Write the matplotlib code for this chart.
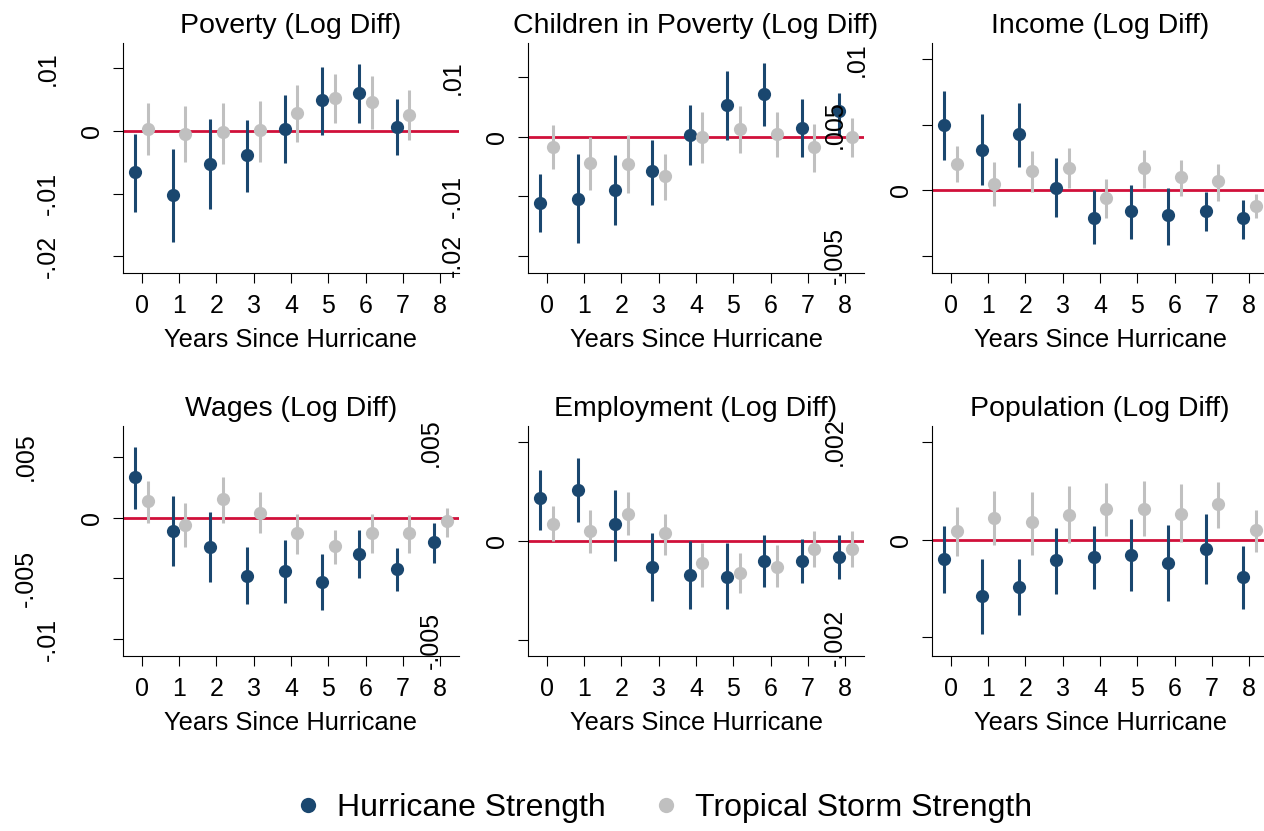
import matplotlib
matplotlib.use("Agg")
import matplotlib.pyplot as plt
from matplotlib.lines import Line2D
from matplotlib import transforms

plt.rcParams['font.family'] = ['Liberation Sans', 'DejaVu Sans']

years = list(range(9))

# Poverty
pov_hs = [-0.0066, -0.0102, -0.0052, -0.0039, 0.0003, 0.0049, 0.0061, 0.0006]
pov_hs_lo = [-0.0129, -0.0177, -0.0124, -0.0098, -0.0051, -0.0006, 0.0012, -0.0039]
pov_hs_hi = [-0.0005, -0.0028, 0.0019, 0.0018, 0.0057, 0.0102, 0.0107, 0.0051]
pov_ts = [0.0003, -0.0005, -0.0002, 0.0001, 0.0029, 0.0053, 0.0047, 0.0026]
pov_ts_lo = [-0.0039, -0.0050, -0.0052, -0.0050, -0.0017, 0.0012, 0.0004, -0.0015]
pov_ts_hi = [0.0044, 0.0040, 0.0045, 0.0048, 0.0073, 0.0091, 0.0088, 0.0065]

# Children in poverty
chi_hs = [-0.0111, -0.0105, -0.0090, -0.0058, 0.0003, 0.0053, 0.0072, 0.0014, 0.0043]
chi_hs_lo = [-0.0160, -0.0179, -0.0149, -0.0114, -0.0048, -0.0006, 0.0018, -0.0035, 0.0002]
chi_hs_hi = [-0.0062, -0.0029, -0.0030, -0.0005, 0.0054, 0.0111, 0.0123, 0.0063, 0.0074]
chi_ts = [-0.0017, -0.0044, -0.0046, -0.0066, 0.0000, 0.0013, 0.0004, -0.0018, 0.0000]
chi_ts_lo = [-0.0054, -0.0090, -0.0095, -0.0107, -0.0045, -0.0028, -0.0034, -0.0059, -0.0034]
chi_ts_hi = [0.0020, -0.0001, 0.0003, -0.0029, 0.0041, 0.0052, 0.0042, 0.0021, 0.0031]

# Income
inc_hs = [0.0050, 0.0031, 0.0043, 0.0002, -0.0021, -0.0016, -0.0019, -0.0016, -0.0021]
inc_hs_lo = [0.0023, 0.0004, 0.0018, -0.0020, -0.0041, -0.0037, -0.0042, -0.0031, -0.0037]
inc_hs_hi = [0.0076, 0.0058, 0.0067, 0.0025, 0.0000, 0.0004, 0.0002, -0.0001, -0.0007]
inc_ts = [0.0020, 0.0005, 0.0015, 0.0017, -0.0006, 0.0017, 0.0010, 0.0007, -0.0012]
inc_ts_lo = [0.0006, -0.0012, -0.0001, 0.0002, -0.0021, 0.0002, -0.0004, -0.0008, -0.0021]
inc_ts_hi = [0.0034, 0.0022, 0.0030, 0.0032, 0.0009, 0.0031, 0.0023, 0.0020, -0.0003]

# Wages
wag_hs = [0.0033, -0.0011, -0.0024, -0.0048, -0.0044, -0.0053, -0.0030, -0.0042, -0.0020]
wag_hs_lo = [0.0007, -0.0040, -0.0053, -0.0071, -0.0070, -0.0076, -0.0050, -0.0060, -0.0037]
wag_hs_hi = [0.0058, 0.0018, 0.0005, -0.0024, -0.0018, -0.0030, -0.0010, -0.0025, -0.0004]
wag_ts = [0.0014, -0.0006, 0.0015, 0.0004, -0.0013, -0.0023, -0.0013, -0.0013, -0.0003]
wag_ts_lo = [-0.0004, -0.0024, -0.0004, -0.0013, -0.0030, -0.0038, -0.0029, -0.0029, -0.0016]
wag_ts_hi = [0.0030, 0.0012, 0.0033, 0.0021, 0.0003, -0.0010, 0.0003, 0.0002, 0.0008]

# Employment
emp_hs = [0.0022, 0.0026, 0.0009, -0.0013, -0.0017, -0.0018, -0.0010, -0.0010, -0.0008]
emp_hs_lo = [0.0006, 0.0010, -0.0010, -0.0030, -0.0034, -0.0034, -0.0023, -0.0021, -0.0019]
emp_hs_hi = [0.0036, 0.0042, 0.0026, 0.0004, 0.0000, -0.0001, 0.0003, 0.0001, 0.0003]
emp_ts = [0.0009, 0.0005, 0.0014, 0.0004, -0.0011, -0.0016, -0.0013, -0.0004, -0.0004]
emp_ts_lo = [0.0000, -0.0006, 0.0003, -0.0007, -0.0023, -0.0026, -0.0023, -0.0013, -0.0013]
emp_ts_hi = [0.0018, 0.0016, 0.0025, 0.0014, -0.0001, -0.0006, -0.0002, 0.0005, 0.0005]

# Population
pop_hs = [-0.00040, -0.00116, -0.00097, -0.00042, -0.00035, -0.00032, -0.00048, -0.00019, -0.00076]
pop_hs_lo = [-0.00109, -0.00194, -0.00155, -0.00111, -0.00102, -0.00106, -0.00126, -0.00091, -0.00141]
pop_hs_hi = [0.00028, -0.00040, -0.00039, 0.00024, 0.00028, 0.00041, 0.00029, 0.00052, -0.00013]
pop_ts = [0.00017, 0.00044, 0.00035, 0.00051, 0.00062, 0.00063, 0.00053, 0.00072, 0.00019]
pop_ts_lo = [-0.00034, -0.00012, -0.00032, -0.00008, 0.00008, 0.00008, -0.00006, 0.00023, -0.00025]
pop_ts_hi = [0.00066, 0.00099, 0.00098, 0.00109, 0.00115, 0.00120, 0.00113, 0.00118, 0.00061]

titles = ["Poverty (Log Diff)", "Children in Poverty (Log Diff)", "Income (Log Diff)",
          "Wages (Log Diff)", "Employment (Log Diff)", "Population (Log Diff)"]
yticks = [[-0.02, -0.01, 0, 0.01], [-0.02, -0.01, 0, 0.01], [-0.005, 0, 0.005, 0.01],
          [-0.01, -0.005, 0, 0.005], [-0.005, 0, 0.005], [-0.002, 0, 0.002]]
ytick_labels = [["-.02", "-.01", "0", ".01"], ["-.02", "-.01", "0", ".01"],
                ["-.005", "0", ".005", ".01"], ["-.01", "-.005", "0", ".005"],
                ["-.005", "0", ".005"], ["-.002", "0", ".002"]]
ylims = [(-0.02265, 0.01404), (-0.02291, 0.01574), (-0.00631, 0.01125),
         (-0.01137, 0.00753), (-0.00579, 0.00583), (-0.00238, 0.00232)]

panels = [
    (pov_hs, pov_hs_lo, pov_hs_hi, pov_ts, pov_ts_lo, pov_ts_hi),
    (chi_hs, chi_hs_lo, chi_hs_hi, chi_ts, chi_ts_lo, chi_ts_hi),
    (inc_hs, inc_hs_lo, inc_hs_hi, inc_ts, inc_ts_lo, inc_ts_hi),
    (wag_hs, wag_hs_lo, wag_hs_hi, wag_ts, wag_ts_lo, wag_ts_hi),
    (emp_hs, emp_hs_lo, emp_hs_hi, emp_ts, emp_ts_lo, emp_ts_hi),
    (pop_hs, pop_hs_lo, pop_hs_hi, pop_ts, pop_ts_lo, pop_ts_hi),
]

navy = "#1a476f"
grey = "#c0c0c0"
zero_red = "#d0103a"
W, H = 1264, 831

fig = plt.figure(figsize=(W / 100, H / 100), dpi=100)

col_left = [123, 528, 932]
row_top = [43, 426]
ax_w, ax_h = 336, 230
off = 0.17

for i, (hs, hs_lo, hs_hi, ts, ts_lo, ts_hi) in enumerate(panels):
    r, c = divmod(i, 3)
    left = col_left[c] / W
    bottom = 1 - (row_top[r] + ax_h) / H
    ax = fig.add_axes([left, bottom, ax_w / W, ax_h / H])

    ax.axhline(0, color=zero_red, lw=2, zorder=1)
    xh = [y - off for y in years[:len(hs)]]
    xt = [y + off for y in years[:len(ts)]]
    ax.vlines(xh, hs_lo, hs_hi, color=navy, lw=2.2, zorder=2)
    ax.vlines(xt, ts_lo, ts_hi, color=grey, lw=2.2, zorder=2)
    ax.plot(xh, hs, "o", color=navy, ms=9.5, mec="none", zorder=3)
    ax.plot(xt, ts, "o", color=grey, ms=9.5, mec="none", zorder=3)

    ax.set_xlim(-0.5, 8.5)
    ax.set_ylim(*ylims[i])
    ax.set_xticks(years)
    ax.set_yticks(yticks[i])
    ax.set_yticklabels([])
    ax.tick_params(axis="both", direction="out", length=7, width=0.8, labelsize=18)
    ax.tick_params(axis="x", pad=8)
    for s in ["top", "right"]:
        ax.spines[s].set_visible(False)
    for s in ["left", "bottom"]:
        ax.spines[s].set_linewidth(0.8)
    ax.set_title(titles[i], fontsize=20.5, pad=7.5)
    ax.set_xlabel("Years Since Hurricane", fontsize=18.4, labelpad=7)

    # rotated y labels, longer strings pushed further left
    base = transforms.blended_transform_factory(ax.transAxes, ax.transData)
    for val, lab in zip(yticks[i], ytick_labels[i]):
        n = len(lab.lstrip("-"))
        shift = 31 + 22 * (n - 1)
        tr = base + transforms.ScaledTranslation(-shift / 100, 0, fig.dpi_scale_trans)
        ax.text(0, val, lab, transform=tr, rotation=90, ha="center", va="center",
                fontsize=18, clip_on=False, zorder=5)

handles = [Line2D([], [], ls="none", marker="o", color=navy, ms=11, mec="none"),
           Line2D([], [], ls="none", marker="o", color=grey, ms=11, mec="none")]
fig.legend(handles, ["Hurricane Strength", "Tropical Storm Strength"], loc="center",
           bbox_to_anchor=(663.5 / W, 1 - 808 / H), ncol=2, frameon=False, fontsize=23,
           handlelength=0.8, handletextpad=0.5, columnspacing=1.5, borderpad=0)

fig.savefig("out.png", dpi=100)
